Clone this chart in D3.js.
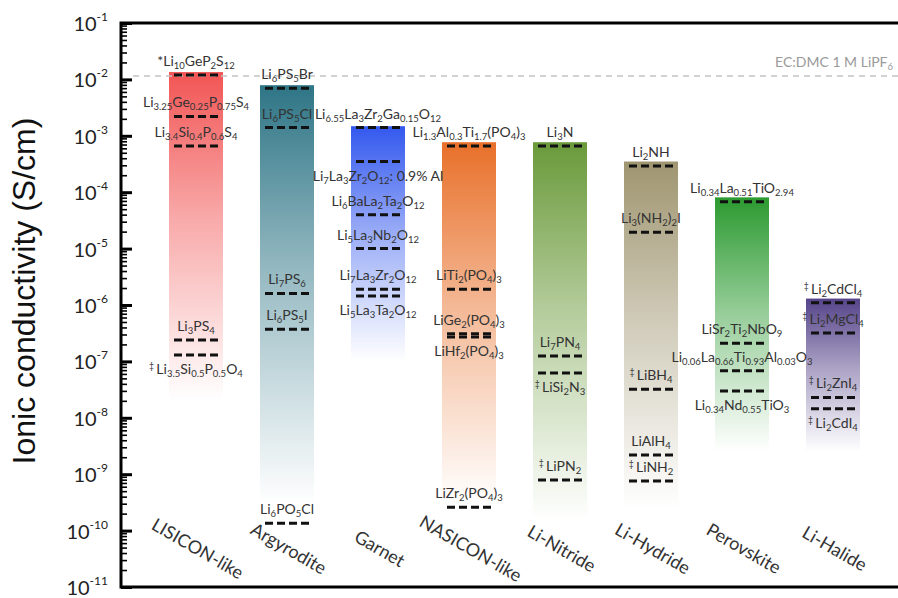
<!DOCTYPE html>
<html><head><meta charset="utf-8">
<script src="https://cdn.jsdelivr.net/npm/d3@7"></script>
<style>body{margin:0;background:#fff}</style>
</head><body><svg id="c" width="898" height="598"></svg>
<script>
// ---------------- data ----------------
const categories = ["LISICON-like","Argyrodite","Garnet","NASICON-like","Li-Nitride","Li-Hydride","Perovskite","Li-Halide"];
const barTop  = [1.35e-2, 7.9e-3, 1.48e-3, 7.7e-4, 7.7e-4, 3.5e-4, 8.1e-5, 1.3e-6];
const barFade = [2e-8, 3e-10, 1e-7, 3e-10, 1.5e-10, 2.5e-10, 2.5e-9, 2.5e-9];
const barColors = ["#f25555","#2e7586","#3358ee","#e8702a","#6a9a3a","#9f9570","#2b9a30","#56448a"];

const matCategory = [
  "LISICON-like","LISICON-like","LISICON-like","LISICON-like","LISICON-like",
  "Argyrodite","Argyrodite","Argyrodite","Argyrodite","Argyrodite",
  "Garnet","Garnet","Garnet","Garnet","Garnet","Garnet",
  "NASICON-like","NASICON-like","NASICON-like","NASICON-like","NASICON-like",
  "Li-Nitride","Li-Nitride","Li-Nitride","Li-Nitride",
  "Li-Hydride","Li-Hydride","Li-Hydride","Li-Hydride","Li-Hydride",
  "Perovskite","Perovskite","Perovskite","Perovskite",
  "Li-Halide","Li-Halide","Li-Halide","Li-Halide"];
const matValue = [
  1.2e-2, 2.2e-3, 6.6e-4, 2.4e-7, 1.3e-7,
  7e-3, 1.4e-3, 1.6e-6, 3.7e-7, 1.35e-10,
  1.4e-3, 3.5e-4, 4e-5, 1e-5, 1.9e-6, 1.45e-6,
  6.6e-4, 1.9e-6, 3.1e-7, 2.7e-7, 2.6e-10,
  6.6e-4, 1.25e-7, 6.2e-8, 7.9e-10,
  2.9e-4, 1.95e-5, 3.2e-8, 2.2e-9, 7.6e-10,
  6.8e-5, 2.1e-7, 6.8e-8, 3e-8,
  1.1e-6, 3.2e-7, 2.3e-8, 1.45e-8];
const matLabel = [
  "*Li_{10}GeP_{2}S_{12}","Li_{3.25}Ge_{0.25}P_{0.75}S_{4}","Li_{3.4}Si_{0.4}P_{0.6}S_{4}","Li_{3}PS_{4}","^{‡}Li_{3.5}Si_{0.5}P_{0.5}O_{4}",
  "Li_{6}PS_{5}Br","Li_{6}PS_{5}Cl","Li_{7}PS_{6}","Li_{6}PS_{5}I","Li_{6}PO_{5}Cl",
  "Li_{6.55}La_{3}Zr_{2}Ga_{0.15}O_{12}","Li_{7}La_{3}Zr_{2}O_{12}: 0.9% Al","Li_{6}BaLa_{2}Ta_{2}O_{12}","Li_{5}La_{3}Nb_{2}O_{12}","Li_{7}La_{3}Zr_{2}O_{12}","Li_{5}La_{3}Ta_{2}O_{12}",
  "Li_{1.3}Al_{0.3}Ti_{1.7}(PO_{4})_{3}","LiTi_{2}(PO_{4})_{3}","LiGe_{2}(PO_{4})_{3}","LiHf_{2}(PO_{4})_{3}","LiZr_{2}(PO_{4})_{3}",
  "Li_{3}N","Li_{7}PN_{4}","^{‡}LiSi_{2}N_{3}","^{‡}LiPN_{2}",
  "Li_{2}NH","Li_{3}(NH_{2})_{2}I","^{‡}LiBH_{4}","LiAlH_{4}","^{‡}LiNH_{2}",
  "Li_{0.34}La_{0.51}TiO_{2.94}","LiSr_{2}Ti_{2}NbO_{9}","Li_{0.06}La_{0.66}Ti_{0.93}Al_{0.03}O_{3}","Li_{0.34}Nd_{0.55}TiO_{3}",
  "^{‡}Li_{2}CdCl_{4}","^{‡}Li_{2}MgCl_{4}","^{‡}Li_{2}ZnI_{4}","^{‡}Li_{2}CdI_{4}"];
const matSide = [
  "above","above","above","above","below",
  "above","above","above","above","above",
  "above","below","above","above","above","below",
  "above","above","above","below","above",
  "above","above","below","above",
  "above","above","above","above","above",
  "above","above","above","below",
  "above","above","above","below"];

const refValue = 1.15e-2;
const refLabel = "EC:DMC 1 M LiPF_{6}";
const yExponents = [-1,-2,-3,-4,-5,-6,-7,-8,-9,-10,-11];
const yTitle = "Ionic conductivity (S/cm)";

// ---------------- drawing ----------------
const svg = d3.select("#c");
const pL = 121, pR = 905, pT = 23, pB = 587;
const x = d3.scaleBand().domain(categories).range([150.5, 878.5]).paddingInner(0.4066).paddingOuter(0.2033);
const y = d3.scaleLog().domain([1e-11, 1e-1]).range([pB, pT]);
const bw = x.bandwidth();

function richText(sel, str, base) {
  const re = /(_\{[^}]*\}|\^\{[^}]*\})/g;
  const parts = str.split(re).filter(s => s.length);
  let shift = 0;
  parts.forEach(p => {
    if (p.startsWith("_{")) {
      sel.append("tspan").attr("dy", 3 - shift).attr("font-size", base * 0.68).text(p.slice(2, -1));
      shift = 3;
    } else if (p.startsWith("^{")) {
      sel.append("tspan").attr("dy", -5 - shift).attr("font-size", base * 0.62).text(p.slice(2, -1) + " ");
      shift = -5;
    } else {
      sel.append("tspan").attr("dy", -shift).text(p);
      shift = 0;
    }
  });
}

// gradients
const defs = svg.append("defs");
categories.forEach((c, i) => {
  const g = defs.append("linearGradient").attr("id", "g" + i)
    .attr("x1", 0).attr("y1", 0).attr("x2", 0).attr("y2", 1);
  g.append("stop").attr("offset", 0).attr("stop-color", barColors[i]).attr("stop-opacity", 1);
  g.append("stop").attr("offset", 0.45).attr("stop-color", barColors[i]).attr("stop-opacity", 0.5);
  g.append("stop").attr("offset", 1).attr("stop-color", barColors[i]).attr("stop-opacity", 0);
});

// bars
svg.append("g").selectAll("rect").data(categories).join("rect")
  .attr("x", d => x(d)).attr("width", bw)
  .attr("y", (d, i) => y(barTop[i]))
  .attr("height", (d, i) => y(barFade[i]) - y(barTop[i]))
  .attr("fill", (d, i) => `url(#g${i})`);

// reference line
svg.append("line").attr("x1", 133).attr("x2", 898)
  .attr("y1", y(refValue)).attr("y2", y(refValue))
  .attr("stroke", "#c4c4c4").attr("stroke-width", 1.5).attr("stroke-dasharray", "6,5");
richText(svg.append("text").attr("x", 893).attr("y", y(refValue) - 9)
  .attr("text-anchor", "end").attr("font-family", "Lato").attr("font-size", 14).attr("fill", "#9a9a9a"), refLabel, 14);

// material dashes
const idx = d3.range(matValue.length);
svg.append("g").selectAll("line").data(idx).join("line")
  .attr("x1", i => x(matCategory[i]) + bw / 2 - 22)
  .attr("x2", i => x(matCategory[i]) + bw / 2 + 22)
  .attr("y1", i => y(matValue[i])).attr("y2", i => y(matValue[i]))
  .attr("stroke", "#111").attr("stroke-width", 3).attr("stroke-dasharray", "8,4");

// material labels
const mlab = svg.append("g").attr("font-family", "Lato").attr("font-size", 14).attr("fill", "#333").attr("text-anchor", "middle");
idx.forEach(i => {
  const t = mlab.append("text")
    .attr("x", x(matCategory[i]) + bw / 2)
    .attr("y", y(matValue[i]) + (matSide[i] === "above" ? -9 : 19));
  richText(t, matLabel[i], 14);
});

// frame
svg.append("path").attr("d", `M${pR},${pT}H${pL}V${pB}H${pR}`)
  .attr("fill", "none").attr("stroke", "#000").attr("stroke-width", 3);

// ticks
const minor = [];
for (let e = -11; e < -1; e++) for (let m = 2; m <= 9; m++) minor.push(m * Math.pow(10, e));
const majorVals = yExponents.map(e => Math.pow(10, e));
const axMinor = svg.append("g").attr("transform", `translate(${pL},0)`)
  .call(d3.axisLeft(y).tickValues(minor).tickSizeInner(-6).tickSizeOuter(0).tickFormat(""));
axMinor.select(".domain").remove();
axMinor.selectAll("line").attr("stroke-width", 1.6);
const axMajor = svg.append("g").attr("transform", `translate(${pL},0)`)
  .call(d3.axisLeft(y).tickValues(majorVals).tickSizeInner(-11).tickSizeOuter(0).tickFormat(""));
axMajor.select(".domain").remove();
axMajor.selectAll("line").attr("stroke-width", 3);

// tick labels
const tl = svg.append("g").attr("font-family", "Lato").attr("fill", "#222").attr("text-anchor", "end");
yExponents.forEach(e => {
  const t = tl.append("text").attr("x", 108).attr("y", y(Math.pow(10, e)) + 8);
  t.append("tspan").attr("font-size", 20).text("10");
  t.append("tspan").attr("font-size", 12).attr("dy", -10).text(String(e));
});

// category labels
svg.append("g").selectAll("text").data(categories).join("text")
  .attr("transform", d => `translate(${x(d) + bw / 2 + 2},${548}) rotate(30)`)
  .attr("text-anchor", "middle").attr("dominant-baseline", "central")
  .attr("font-family", "Lato").attr("font-size", 18).attr("fill", "#333")
  .text(d => d);

// y title
svg.append("text").attr("transform", "translate(35,291) rotate(-90)")
  .attr("text-anchor", "middle").attr("font-family", "Liberation Sans").attr("font-size", 32).attr("fill", "#111")
  .text(yTitle);
</script></body></html>
